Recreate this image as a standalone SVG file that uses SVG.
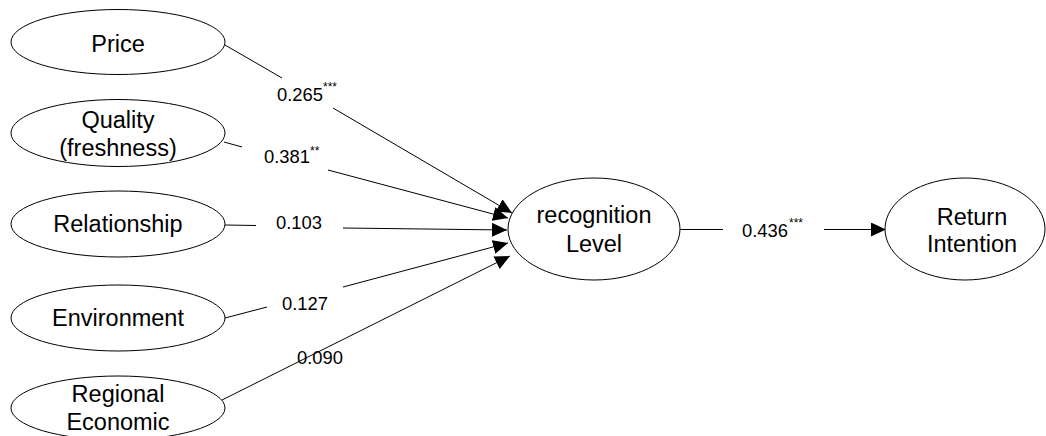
<svg xmlns="http://www.w3.org/2000/svg" width="1046" height="436" viewBox="0 0 1046 436">
<style>
.n{fill:#fff;stroke:#000;stroke-width:1}
.t{font-family:"Liberation Sans",Arial,sans-serif;font-size:23.5px;fill:#000;text-anchor:middle}
.l{font-family:"Liberation Sans",Arial,sans-serif;font-size:18.4px;fill:#000}
.s{font-family:"Liberation Sans",Arial,sans-serif;font-size:12px;fill:#000}
.c{fill:none;stroke:#000;stroke-width:1}
</style>
<defs>
<marker id="ah" markerUnits="userSpaceOnUse" markerWidth="15" markerHeight="14" refX="15" refY="7" orient="auto">
<path d="M0,0 L15,7 L0,14 Z" fill="#000"/>
</marker>
</defs>
<rect width="1046" height="436" fill="#fff"/>
<g id="connectors">
<line class="c" x1="225" y1="45" x2="282" y2="78"/>
<line class="c" x1="333" y1="108" x2="512" y2="213" marker-end="url(#ah)"/>
<line class="c" x1="224" y1="142" x2="242" y2="147"/>
<line class="c" x1="328" y1="170" x2="508" y2="218" marker-end="url(#ah)"/>
<line class="c" x1="225" y1="225" x2="256" y2="225.5"/>
<line class="c" x1="343" y1="228" x2="507" y2="230" marker-end="url(#ah)"/>
<line class="c" x1="225" y1="318" x2="267" y2="307"/>
<line class="c" x1="343" y1="287" x2="508" y2="243" marker-end="url(#ah)"/>
<line class="c" x1="222" y1="400" x2="510" y2="256" marker-end="url(#ah)"/>
<line class="c" x1="680" y1="229.5" x2="723" y2="229.5"/>
<line class="c" x1="824" y1="229.5" x2="886" y2="229.5" marker-end="url(#ah)"/>
<text class="l" x="277" y="101">0.265</text><text class="s" x="323" y="91">***</text>
<text class="l" x="264" y="163">0.381</text><text class="s" x="310" y="155">**</text>
<text class="l" x="276" y="229">0.103</text>
<text class="l" x="282" y="310">0.127</text>
<text class="l" x="297" y="364">0.090</text>
<text class="l" x="742" y="237">0.436</text><text class="s" x="789" y="227">***</text>
</g>
<g id="price"><ellipse class="n" cx="118" cy="42" rx="107" ry="32.5"/><text class="t" x="118" y="52">Price</text></g>
<g id="quality"><ellipse class="n" cx="118" cy="133" rx="107" ry="33.5"/><text class="t" x="118" y="128">Quality</text><text class="t" x="118" y="156">(freshness)</text></g>
<g id="relationship"><ellipse class="n" cx="118" cy="224" rx="107" ry="33"/><text class="t" x="118" y="232">Relationship</text></g>
<g id="environment"><ellipse class="n" cx="118" cy="318" rx="107" ry="33"/><text class="t" x="118" y="326">Environment</text></g>
<g id="regional"><ellipse class="n" cx="118" cy="408" rx="107" ry="32"/><text class="t" x="118" y="402">Regional</text><text class="t" x="118" y="430">Economic</text></g>
<g id="recognition"><ellipse class="n" cx="594" cy="229" rx="86" ry="51"/><text class="t" x="594" y="223">recognition</text><text class="t" x="594" y="252">Level</text></g>
<g id="return"><ellipse class="n" cx="965" cy="229" rx="80" ry="51"/><text class="t" x="972" y="225">Return</text><text class="t" x="972" y="252">Intention</text></g>
</svg>
